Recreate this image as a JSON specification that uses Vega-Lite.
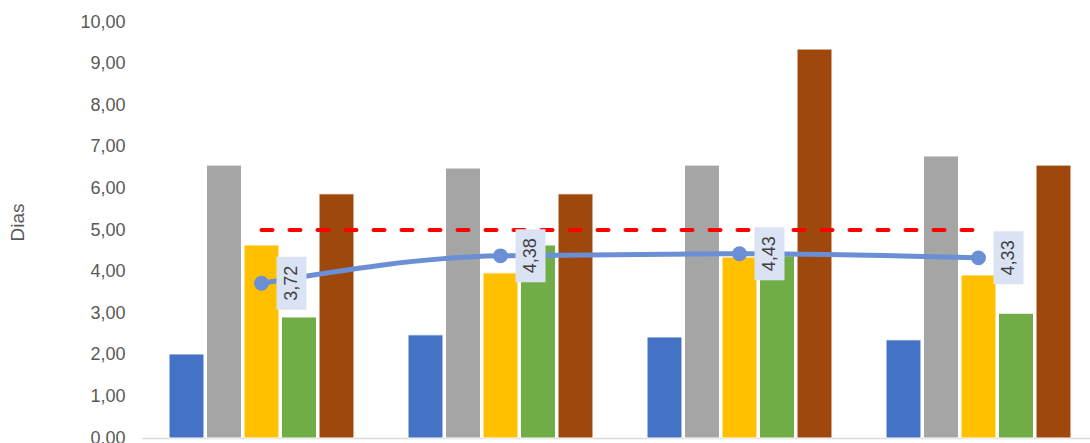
{
  "$schema": "https://vega.github.io/schema/vega-lite/v6.json",
  "autosize": {"type": "none"},
  "padding": {"left": 142, "top": 22, "right": 0, "bottom": 5},
  "width": 948,
  "height": 416,
  "config": {
    "view": {"stroke": null},
    "font": "Liberation Sans",
    "locale": {"number": {"decimal": ",", "thousands": ".", "grouping": [3], "currency": ["", " €"]}},
    "axis": {"labelFont": "Liberation Sans", "titleFont": "Liberation Sans"}
  },
  "datasets": {
    "bars": [
      {"grupo": "1", "serie": "Série 1", "valor": 2.02},
      {"grupo": "1", "serie": "Série 2", "valor": 6.56},
      {"grupo": "1", "serie": "Série 3", "valor": 4.64},
      {"grupo": "1", "serie": "Série 4", "valor": 2.91},
      {"grupo": "1", "serie": "Série 5", "valor": 5.87},
      {"grupo": "2", "serie": "Série 1", "valor": 2.48},
      {"grupo": "2", "serie": "Série 2", "valor": 6.49},
      {"grupo": "2", "serie": "Série 3", "valor": 3.97},
      {"grupo": "2", "serie": "Série 4", "valor": 4.64},
      {"grupo": "2", "serie": "Série 5", "valor": 5.87},
      {"grupo": "3", "serie": "Série 1", "valor": 2.43},
      {"grupo": "3", "serie": "Série 2", "valor": 6.56},
      {"grupo": "3", "serie": "Série 3", "valor": 4.35},
      {"grupo": "3", "serie": "Série 4", "valor": 4.38},
      {"grupo": "3", "serie": "Série 5", "valor": 9.35},
      {"grupo": "4", "serie": "Série 1", "valor": 2.36},
      {"grupo": "4", "serie": "Série 2", "valor": 6.78},
      {"grupo": "4", "serie": "Série 3", "valor": 3.92},
      {"grupo": "4", "serie": "Série 4", "valor": 3.00},
      {"grupo": "4", "serie": "Série 5", "valor": 6.56}
    ],
    "media": [
      {"grupo": "1", "media": 3.72, "meta": 5},
      {"grupo": "2", "media": 4.38, "meta": 5},
      {"grupo": "3", "media": 4.43, "meta": 5},
      {"grupo": "4", "media": 4.33, "meta": 5}
    ]
  },
  "encoding": {
    "x": {
      "field": "grupo",
      "type": "nominal",
      "scale": {"range": [0, 956], "paddingInner": 0, "paddingOuter": 0},
      "axis": {
        "labels": false, "ticks": false, "title": null, "grid": false,
        "domainColor": "#D9D9D9", "domainWidth": 1.5
      }
    }
  },
  "layer": [
    {
      "data": {"name": "bars"},
      "mark": {"type": "bar", "stroke": "white", "strokeWidth": 1},
      "encoding": {
        "xOffset": {"field": "serie", "type": "nominal", "scale": {"paddingInner": 0.067, "paddingOuter": 0.72}},
        "y": {
          "field": "valor", "type": "quantitative",
          "scale": {"domain": [0, 10], "nice": false},
          "axis": {
            "values": [0, 1, 2, 3, 4, 5, 6, 7, 8, 9, 10],
            "format": ".2f",
            "domain": false, "ticks": false, "tickSize": 0, "grid": false,
            "labelPadding": 17, "labelFontSize": 18, "labelColor": "#595959",
            "title": "Dias", "titleFontSize": 19, "titleFontWeight": "normal", "titleColor": "#595959",
            "titleX": -125, "titleY": 200, "titleAngle": 270, "titleAlign": "center", "titleBaseline": "middle"
          }
        },
        "color": {
          "field": "serie", "type": "nominal", "legend": null,
          "scale": {"range": ["#4472C4", "#A5A5A5", "#FFC000", "#70AD47", "#9E480E"]}
        }
      }
    },
    {
      "data": {"name": "media"},
      "mark": {"type": "line", "color": "#FF0000", "strokeWidth": 4, "strokeDash": [11, 17], "strokeCap": "round"},
      "encoding": {"y": {"field": "meta", "type": "quantitative"}}
    },
    {
      "data": {"name": "media"},
      "mark": {"type": "line", "color": "#6A8FD4", "strokeWidth": 5, "interpolate": "monotone"},
      "encoding": {"y": {"field": "media", "type": "quantitative"}}
    },
    {
      "data": {"name": "media"},
      "mark": {"type": "point", "filled": true, "shape": "circle", "size": 220, "color": "#6A8FD4", "opacity": 1},
      "encoding": {"y": {"field": "media", "type": "quantitative"}}
    },
    {
      "data": {"name": "media"},
      "mark": {"type": "point", "filled": true, "shape": "M0.566,-1L1.698,-1L1.698,1L0.566,1Z", "size": 2809, "color": "#DAE3F3", "opacity": 1},
      "encoding": {"y": {"field": "media", "type": "quantitative"}}
    },
    {
      "data": {"name": "media"},
      "mark": {"type": "text", "angle": 270, "align": "center", "baseline": "middle", "dy": 30, "fontSize": 18, "color": "#404040", "font": "Liberation Sans"},
      "encoding": {
        "y": {"field": "media", "type": "quantitative"},
        "text": {"field": "media", "type": "quantitative", "format": ".2f"}
      }
    }
  ]
}
